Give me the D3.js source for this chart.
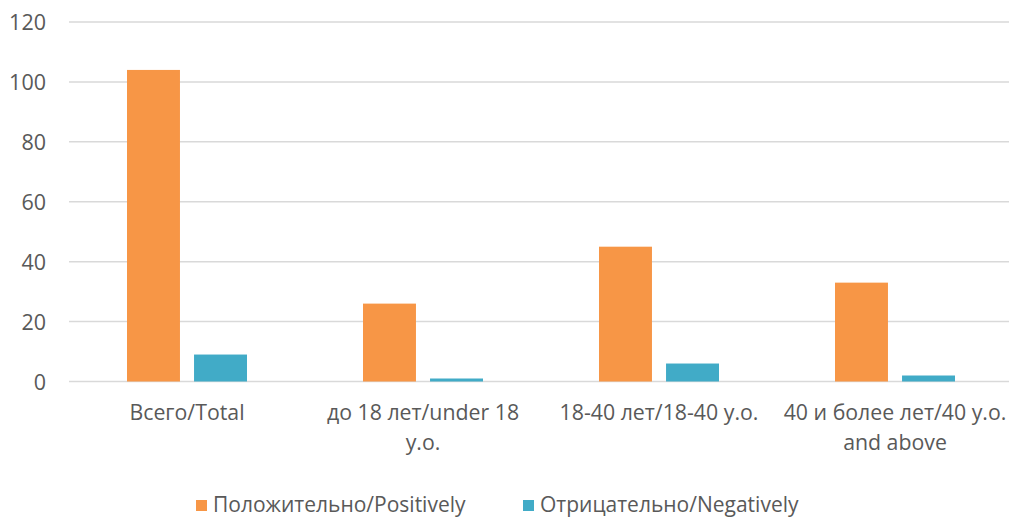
<!DOCTYPE html>
<html><head><meta charset="utf-8">
<script src="https://cdn.jsdelivr.net/npm/d3@7"></script>
<style>body{margin:0;background:#fff}svg{display:block}text{font-family:"Open Sans","Noto Sans",sans-serif;fill:#595959}</style>
</head><body>
<script>
const categories = ["Всего/Total", "до 18 лет/under 18\ny.o.", "18-40 лет/18-40 y.o.", "40 и более лет/40 y.o.\nand above"];
const seriesNames = ["Положительно/Positively", "Отрицательно/Negatively"];
const positively = [104, 26, 45, 33];
const negatively = [9, 1, 6, 2];
const yTicks = [0, 20, 40, 60, 80, 100, 120];
const colors = ["#F79646", "#41ABC7"];

const W = 1012, H = 519;
const svg = d3.select("body").append("svg").attr("width", W).attr("height", H);
const x = d3.scaleBand().domain(categories).range([69, 1013]);
const y = d3.scaleLinear().domain([0, 120]).range([381.5, 22]);
const xs = d3.scaleBand().domain([0, 1]).range([-60, 60]).paddingInner(0.21);

// gridlines
svg.append("g").selectAll("line").data(yTicks).join("line")
  .attr("x1", 69).attr("x2", 1009)
  .attr("y1", d => y(d)).attr("y2", d => y(d))
  .attr("stroke", "#d9d9d9").attr("stroke-width", 1.5);

// y tick labels
const yAxis = d3.axisLeft(y).tickValues(yTicks).tickSize(0).tickPadding(0);
const ya = svg.append("g").attr("transform", "translate(46,0)").call(yAxis);
ya.select(".domain").remove();
ya.selectAll("text").style("font-size", "21.5px").style("fill", "#595959").attr("dy", "0.35em");

// bars
const series = [positively, negatively];
series.forEach((vals, si) => {
  svg.append("g").selectAll("rect").data(categories).join("rect")
    .attr("x", (c) => x(c) + x.bandwidth() / 2 + xs(si))
    .attr("width", xs.bandwidth())
    .attr("y", (c, i) => y(vals[i]))
    .attr("height", (c, i) => y(0) - y(vals[i]))
    .attr("fill", colors[si]);
});

// category labels
const xa = svg.append("g");
categories.forEach(c => {
  const lines = c.split("\n");
  const t = xa.append("text").attr("text-anchor", "middle").style("font-size", "21.3px");
  lines.forEach((ln, li) => {
    t.append("tspan").attr("x", x(c) + x.bandwidth() / 2).attr("y", 420 + li * 30).text(ln);
  });
});

// legend
const legendItems = [{name: seriesNames[0], color: colors[0], x: 196}, {name: seriesNames[1], color: colors[1], x: 523}];
const lg = svg.append("g");
legendItems.forEach(d => {
  lg.append("rect").attr("x", d.x).attr("y", 500).attr("width", 11).attr("height", 11).attr("fill", d.color);
  lg.append("text").attr("x", d.x + 17).attr("y", 512).style("font-size", "21px").text(d.name);
});
</script>
</body></html>
